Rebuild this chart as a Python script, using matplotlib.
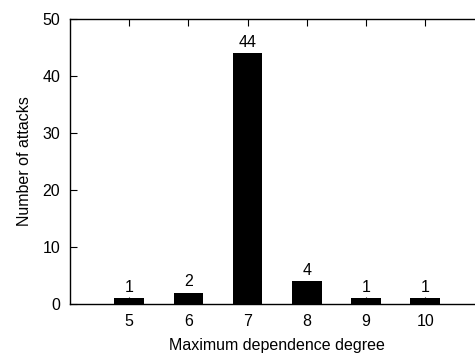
import matplotlib
matplotlib.use("Agg")
import matplotlib.pyplot as plt

# attacks per maximum dependence degree
degrees = [5, 6, 7, 8, 9, 10]
attacks = [1, 2, 44, 4, 1, 1]

plt.rcParams['font.family'] = ['Liberation Sans', 'DejaVu Sans']
FS = 11.5

fig = plt.figure(figsize=(4.75, 3.58), dpi=100)
# axis runs a bit past the right border, as in the gnuplot output
ax = fig.add_axes([70/475, 1 - 304/358, 414.4/475, 285/358])

ax.bar(degrees, attacks, width=0.5, color='black')
for d, a in zip(degrees, attacks):
    ax.annotate(str(a), (d, a), xytext=(0, 2.5), textcoords='offset points',
                ha='center', va='bottom', fontsize=FS)

ax.set_xlim(4, 11)
ax.set_ylim(0, 50)
ax.set_xticks(degrees)
ax.set_yticks(range(0, 51, 10))
ax.tick_params(direction='in', length=5, width=0.8, top=True, right=True,
               labelsize=FS, pad=7)
for s in ax.spines.values():
    s.set_linewidth(1.0)

ax.set_xlabel("Maximum dependence degree", fontsize=FS, labelpad=7)
ax.set_ylabel("Number of attacks", fontsize=FS, labelpad=7.5)

fig.savefig("out.png", dpi=100)
